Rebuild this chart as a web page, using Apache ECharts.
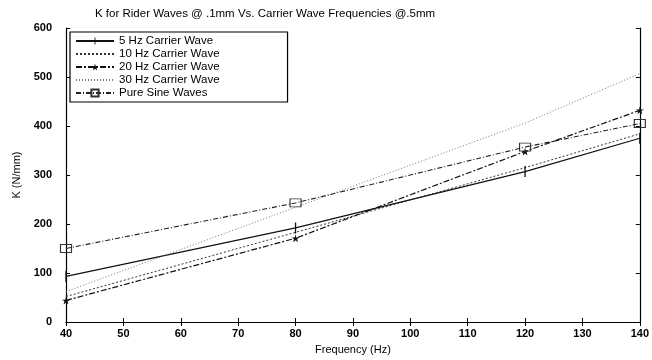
<!DOCTYPE html>
<html><head><meta charset="utf-8">
<script src="https://cdn.jsdelivr.net/npm/echarts@6/dist/echarts.min.js"></script>
<style>html,body{margin:0;padding:0;background:#fff}#c{width:652px;height:360px}</style>
</head><body><div id="c"></div>
<script>
const frequencies = [40, 80, 120, 140];
const seriesNames = ['5 Hz Carrier Wave', '10 Hz Carrier Wave', '20 Hz Carrier Wave', '30 Hz Carrier Wave', 'Pure Sine Waves'];
const k5Hz = [93, 192, 307, 375];
const k10Hz = [52, 183, 315, 384];
const k20Hz = [44, 171, 348, 432];
const k30Hz = [62, 234, 406, 507];
const kSine = [150, 243, 357, 405];
const xTicks = [40, 50, 60, 70, 80, 90, 100, 110, 120, 130, 140];
const yTicks = [0, 100, 200, 300, 400, 500, 600];

const FONT = 'Liberation Sans, Arial, sans-serif';
const pair = arr => frequencies.map((f, i) => [f, arr[i]]);
const starPath = 'path://M5,0 L6,4 L10,4 L7,6 L8,10 L5,7.5 L2,10 L3,6 L0,4 L4,4 Z';
const tickPath = 'path://M0,0 L0.02,0 L0,0.02 Z M10,10 L9.98,10 L10,9.98 Z M4.4,0 L5.6,0 L5.6,10 L4.4,10 Z';

const chart = echarts.init(document.getElementById('c'), null, {renderer: 'canvas'});
const axisCommon = {
  type: 'value',
  axisLine: {show: true, lineStyle: {color: '#000', width: 1.2}},
  axisTick: {show: true, inside: true, length: 4, lineStyle: {color: '#000'}},
  splitLine: {show: false},
  axisLabel: {color: '#000', fontFamily: FONT, fontSize: 11, fontWeight: 'bold'}
};
chart.setOption({
  animation: false,
  backgroundColor: '#fff',
  title: {
    text: 'K for Rider Waves @ .1mm Vs. Carrier Wave Frequencies @.5mm',
    left: 90, top: 3,
    textStyle: {fontFamily: FONT, fontSize: 11.5, fontWeight: 'normal', color: '#000'}
  },
  legend: {
    orient: 'vertical', left: 70, top: 32,
    itemWidth: 38, itemHeight: 9, itemGap: 1,
    padding: [3, 68, 3, 5],
    borderColor: '#000', borderWidth: 1.2,
    textStyle: {fontFamily: FONT, fontSize: 11.5, color: '#000'},
    data: [
      {name: seriesNames[0]},
      {name: seriesNames[1], itemStyle: {opacity: 0}},
      {name: seriesNames[2]},
      {name: seriesNames[3], itemStyle: {opacity: 0}},
      {name: seriesNames[4]}
    ]
  },
  grid: {left: 66, right: 9, top: 28, bottom: 38},
  xAxis: [
    Object.assign({}, axisCommon, {
      min: xTicks[0], max: xTicks[xTicks.length - 1], interval: 10,
      name: 'Frequency (Hz)', nameLocation: 'middle', nameGap: 22,
      nameTextStyle: {fontFamily: FONT, fontSize: 11, color: '#000'},
      axisLabel: Object.assign({}, axisCommon.axisLabel, {margin: 6})
    }),
    Object.assign({}, axisCommon, {
      position: 'top', min: xTicks[0], max: xTicks[xTicks.length - 1], interval: 10,
      axisLabel: {show: false}
    })
  ],
  yAxis: [
    Object.assign({}, axisCommon, {
      min: yTicks[0], max: yTicks[yTicks.length - 1], interval: 100,
      name: 'K (N/mm)', nameLocation: 'middle', nameGap: 42, nameRotate: 90,
      nameTextStyle: {fontFamily: FONT, fontSize: 11, color: '#000'},
      axisLabel: Object.assign({}, axisCommon.axisLabel, {margin: 14})
    }),
    Object.assign({}, axisCommon, {
      position: 'right', min: yTicks[0], max: yTicks[yTicks.length - 1], interval: 100,
      axisLabel: {show: false}
    })
  ],
  series: [
    {name: seriesNames[0], type: 'line', data: pair(k5Hz),
     lineStyle: {color: '#111', width: 1.3, type: 'solid'},
     symbol: tickPath, symbolSize: 11, itemStyle: {color: '#111'}},
    {name: seriesNames[1], type: 'line', data: pair(k10Hz),
     lineStyle: {color: '#333', width: 1, type: [2, 2]},
     symbol: 'none', itemStyle: {color: '#333'}},
    {name: seriesNames[2], type: 'line', data: pair(k20Hz),
     lineStyle: {color: '#111', width: 1.2, type: [6, 2, 2, 2]},
     symbol: starPath, symbolSize: 8, itemStyle: {color: '#111'}},
    {name: seriesNames[3], type: 'line', data: pair(k30Hz),
     lineStyle: {color: '#777', width: 1, type: [1, 2]},
     symbol: 'none', itemStyle: {color: '#777'}},
    {name: seriesNames[4], type: 'line', data: pair(kSine),
     lineStyle: {color: '#222', width: 1.1, type: [5, 2, 1, 2]},
     symbol: 'rect', symbolSize: [11, 8],
     itemStyle: {color: 'rgba(255,255,255,0)', borderColor: '#333', borderWidth: 1}}
  ]
});
</script></body></html>
